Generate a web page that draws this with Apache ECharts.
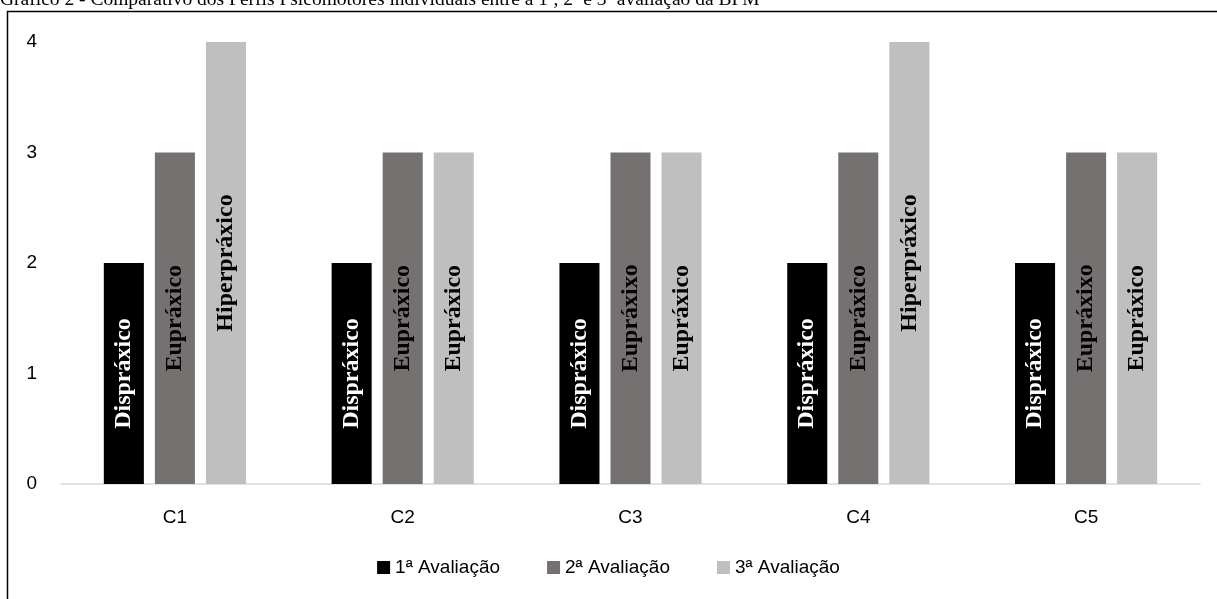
<!DOCTYPE html>
<html>
<head>
<meta charset="utf-8">
<script src="https://cdn.jsdelivr.net/npm/echarts@6/dist/echarts.min.js"></script>
<style>
  html, body { margin: 0; padding: 0; background: #fff; }
  #chart { width: 1217px; height: 599px; }
</style>
</head>
<body>
<div id="chart"></div>
<script>
const categories = ['C1', 'C2', 'C3', 'C4', 'C5'];
const seriesNames = ['1ª Avaliação', '2ª Avaliação', '3ª Avaliação'];
const aval1 = [2, 2, 2, 2, 2];
const aval2 = [3, 3, 3, 3, 3];
const aval3 = [4, 3, 3, 4, 3];
const perfil1 = ['Dispráxico', 'Dispráxico', 'Dispráxico', 'Dispráxico', 'Dispráxico'];
const perfil2 = ['Eupráxico', 'Eupráxico', 'Eupráxixo', 'Eupráxico', 'Eupráxixo'];
const perfil3 = ['Hiperpráxico', 'Eupráxico', 'Eupráxico', 'Hiperpráxico', 'Eupráxico'];
const yTicks = [0, 1, 2, 3, 4];

const colors = ['#000000', '#767171', '#BFBFBF'];
const labelColors = ['#ffffff', '#000000', '#000000'];

const myChart = echarts.init(document.getElementById('chart'));

// one bar series per evaluation, label text taken from the profile arrays
function makeSeries(idx, values, perfis) {
  return {
    name: seriesNames[idx],
    type: 'bar',
    barGap: '27.5%',
    barCategoryGap: '37.6%',
    itemStyle: { color: colors[idx] },
    label: {
      show: true,
      position: 'inside',
      rotate: 90,
      color: labelColors[idx],
      fontFamily: 'Liberation Serif',
      fontWeight: 'bold',
      fontSize: 24,
      formatter: (p) => perfis[p.dataIndex]
    },
    data: values
  };
}

const option = {
  animation: false,
  graphic: [
    {
      type: 'text',
      left: 0,
      top: -10,
      style: {
        text: 'Gráfico 2 - Comparativo dos Perfis Psicomotores individuais entre a 1ª, 2ª e 3ª avaliação da BPM',
        font: '19.5px "Liberation Serif"',
        fill: '#000'
      }
    },
    {
      type: 'polyline',
      shape: { points: [[7.5, 599], [7.5, 11.5], [1217, 11.5]] },
      style: { stroke: '#000', lineWidth: 1.5, fill: null }
    }
  ],
  grid: { left: 61, right: 17, top: 42, bottom: 115 },
  legend: {
    bottom: 17,
    left: 'center',
    icon: 'rect',
    itemWidth: 13,
    itemHeight: 13,
    itemGap: 47,
    textStyle: { fontFamily: 'Liberation Sans', fontSize: 19, color: '#000' },
    data: seriesNames
  },
  xAxis: {
    type: 'category',
    data: categories,
    axisLine: { lineStyle: { color: '#d9d9d9', width: 1.5 } },
    axisTick: { show: false },
    axisLabel: { fontFamily: 'Liberation Sans', fontSize: 19, color: '#000', margin: 24 }
  },
  yAxis: {
    type: 'value',
    min: yTicks[0],
    max: yTicks[yTicks.length - 1],
    interval: 1,
    splitLine: { show: false },
    axisLine: { show: false },
    axisTick: { show: false },
    axisLabel: { fontFamily: 'Liberation Sans', fontSize: 19, color: '#000', margin: 24 }
  },
  series: [
    makeSeries(0, aval1, perfil1),
    makeSeries(1, aval2, perfil2),
    makeSeries(2, aval3, perfil3)
  ]
};

myChart.setOption(option);
window.addEventListener('resize', myChart.resize);
</script>
</body>
</html>
